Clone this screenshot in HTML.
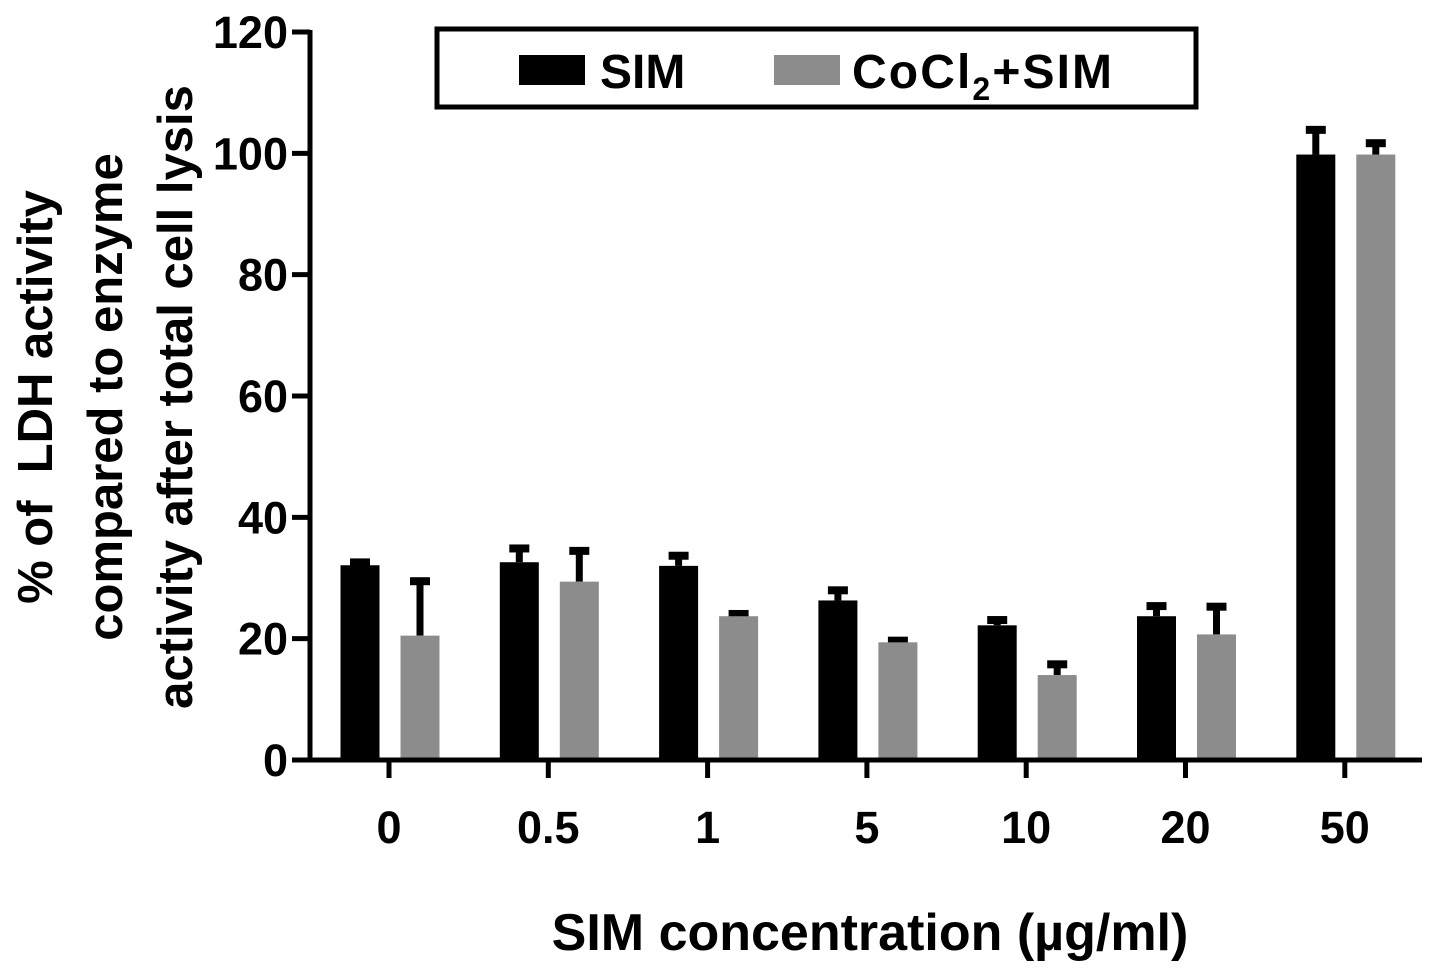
<!DOCTYPE html>
<html><head><meta charset="utf-8"><style>
body{margin:0;background:#fff;}
svg{display:block;font-family:"Liberation Sans",Arial,sans-serif;font-weight:bold;}
</style></head><body>
<svg id="chart" width="1441" height="971" viewBox="0 0 1441 971">
<g id="bars"></g>
<g id="axes"></g>
<g>
<rect x="437" y="29" width="759" height="78" fill="#fff" stroke="#000" stroke-width="5"/>
<rect x="519" y="55" width="66" height="30" fill="#000"/>
<text x="600" y="88" font-size="48">SIM</text>
<rect x="774" y="55" width="66" height="30" fill="#8c8c8c"/>
<text x="852" y="88" font-size="48" textLength="260">CoCl<tspan font-size="32" dy="12">2</tspan><tspan dy="-12">+SIM</tspan></text>
</g>
<text x="870" y="950" font-size="52" text-anchor="middle">SIM concentration (µg/ml)</text>
<g transform="translate(105,397) rotate(-90)">
<text x="0" y="-53" font-size="49" text-anchor="middle" xml:space="preserve">% of  LDH activity</text>
<text x="0" y="17" font-size="49" text-anchor="middle">compared to enzyme</text>
<text x="0" y="87" font-size="49" text-anchor="middle">activity after total cell lysis</text>
</g>
</svg>
<script>
const categories=["0","0.5","1","5","10","20","50"];
const simValues=[32.1,32.6,32.0,26.3,22.2,23.7,99.8];
const simErrors=[0.8,2.6,2.0,2.0,1.2,2.0,4.4];
const cocValues=[20.5,29.4,23.7,19.4,14.0,20.7,99.8];
const cocErrors=[9.3,5.4,0.7,0.6,2.1,4.9,2.2];
const yTicks=[0,20,40,60,80,100,120];
const NS="http://www.w3.org/2000/svg";
const x0=310,y0=760,yTop=32;
function yS(v){return y0-(y0-yTop)*v/120;}
function xS(i){return 389+i*159.3;}
function mk(t,a,p){const e=document.createElementNS(NS,t);for(const k in a)e.setAttribute(k,a[k]);p.appendChild(e);return e;}
const bars=document.getElementById('bars'),axes=document.getElementById('axes');
categories.forEach((c,i)=>{
  [[simValues,simErrors,-29,"#000","sim"],[cocValues,cocErrors,31,"#8c8c8c","cocl2-sim"]].forEach(s=>{
    const cx=xS(i)+s[2],v=s[0][i],e=s[1][i];
    const ln=mk('rect',{x:cx-3.5,y:yS(v+e),width:7,height:yS(v)-yS(v+e),fill:"#000"},bars);
    
    
    const cap=mk('rect',{x:cx-10,y:yS(v+e)-2,width:20,height:8,fill:"#000"},bars);
    
    
    const r=mk('rect',{x:cx-19.5,y:yS(v),width:39,height:y0-yS(v),fill:s[3]},bars);
    
    
  });
  const t=mk('line',{x1:xS(i),x2:xS(i),y1:y0,y2:y0+18,stroke:"#000","stroke-width":5},axes);
  
  
  const l=mk('text',{x:xS(i),y:843,"font-size":45,"text-anchor":"middle"},axes);
  l.textContent=c;
  
  
});
yTicks.forEach(v=>{
  const t=mk('line',{x1:x0-18,x2:x0,y1:yS(v),y2:yS(v),stroke:"#000","stroke-width":5},axes);
  
  
  const l=mk('text',{x:288,y:yS(v)+16,"font-size":45,"text-anchor":"end"},axes);
  l.textContent=v;
  
  
});
const ya=mk('line',{x1:x0,x2:x0,y1:yTop-2,y2:y0+2,stroke:"#000","stroke-width":5},axes);


const xa=mk('line',{x1:x0-2,x2:1422,y1:y0,y2:y0,stroke:"#000","stroke-width":5},axes);


</script>
</body></html>
